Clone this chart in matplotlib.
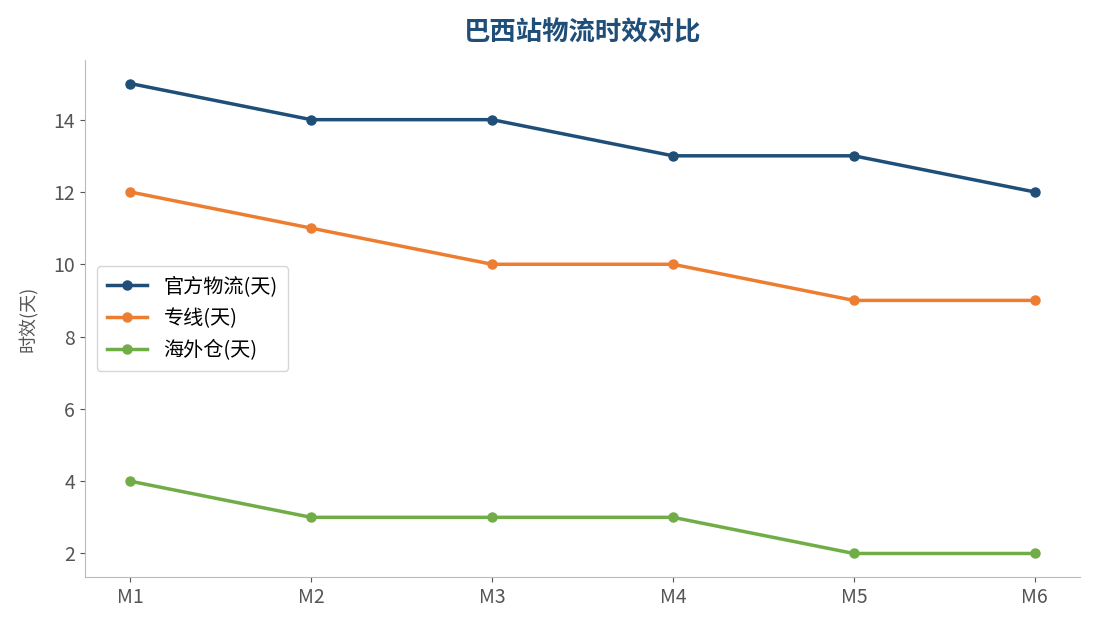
import matplotlib.pyplot as plt

plt.rcParams['font.family'] = ['Noto Sans CJK SC', 'DejaVu Sans']

months = ["M1", "M2", "M3", "M4", "M5", "M6"]
official = [15, 14, 14, 13, 13, 12]
dedicated = [12, 11, 10, 10, 9, 9]
overseas = [4, 3, 3, 3, 2, 2]

fig = plt.figure(figsize=(10.95, 6.29), dpi=100)
ax = fig.add_axes([0.0776, 0.0827, 0.9087, 0.8219])

ax.plot(months, official, color='#1f4e79', lw=2.5, marker='o', ms=6.5, label='官方物流(天)')
ax.plot(months, dedicated, color='#ed7d31', lw=2.5, marker='o', ms=6.5, label='专线(天)')
ax.plot(months, overseas, color='#70ad47', lw=2.5, marker='o', ms=6.5, label='海外仓(天)')

ax.set_title('巴西站物流时效对比', fontsize=19, fontweight='bold', color='#1f4e79', pad=14)
ax.set_ylabel('时效(天)', fontsize=13, color='#555555', labelpad=12)
ax.set_yticks([2, 4, 6, 8, 10, 12, 14])

for s in ['top', 'right']:
    ax.spines[s].set_visible(False)
for s in ['left', 'bottom']:
    ax.spines[s].set_color('#bbbbbb')
ax.tick_params(colors='#555555', labelsize=14)

leg = ax.legend(loc='center left', fontsize=14.5, frameon=True, borderaxespad=0.6,
                borderpad=0.5, labelspacing=0.55)
leg.get_frame().set_edgecolor('#cccccc')

fig.savefig('out.png', dpi=100)
